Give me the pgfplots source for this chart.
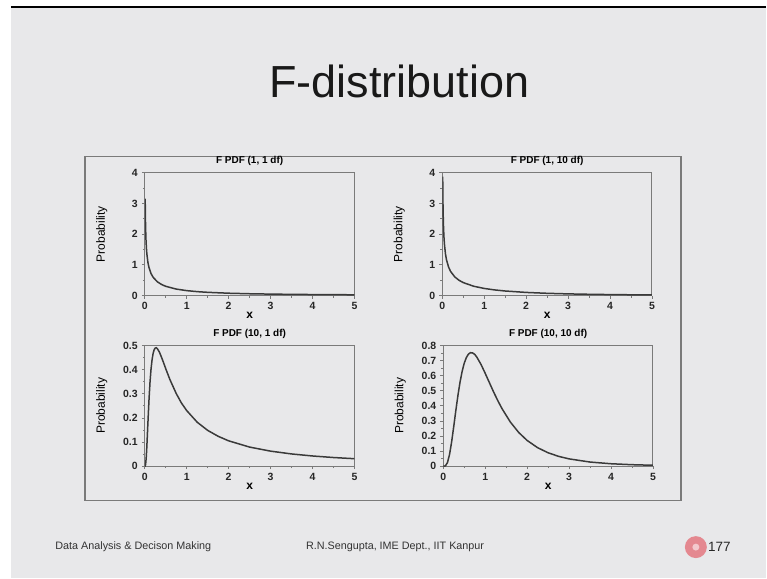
\documentclass[border=0pt]{standalone}
\usepackage{pgfplots}
\pgfplotsset{compat=1.18}
\usepackage{fontspec}
\setmainfont{Liberation Sans}
\definecolor{slidebg}{HTML}{E8E8EA}
\definecolor{axgray}{HTML}{7A7A7A}
\definecolor{curve}{HTML}{3A3A3A}
\definecolor{pagered}{HTML}{E48890}
\pgfplotsset{
  fplot/.style={
    scale only axis, width=210pt, height=123pt, anchor=south west,
    xmin=0, xmax=5, ymin=0,
    axis line style={draw=axgray, line width=1.1pt},
    tick align=outside, tick pos=left, major tick length=3pt, minor tick length=2pt,
    every tick/.style={draw=axgray, line width=0.8pt},
    xtick={0,1,2,3,4,5}, minor x tick num=1,
    /pgf/number format/assume math mode=true,
    /pgf/number format/fixed,
    tick label style={font=\fontsize{10.5}{10.5}\selectfont\bfseries, text=black!85},
    xticklabel style={yshift=-0.5pt},
    yticklabel style={xshift=-0.5pt},
    title style={font=\fontsize{10}{10}\selectfont\bfseries, at={(0.5,1)}, anchor=south, yshift=-1.5pt, inner sep=2pt},
    every axis x label/.style={at={(axis description cs:0.5,0)}, yshift=-20pt, anchor=center, font=\fontsize{12}{12}\selectfont\bfseries},
    every axis y label/.style={at={(axis description cs:0,0.5)}, xshift=-43pt, rotate=90, anchor=center, font=\fontsize{12}{12}\selectfont},
    xlabel={x}, ylabel={Probability},
    every axis plot post/.append style={draw=curve, line width=1.5pt, mark=none},
  }
}
\begin{document}
\begin{tikzpicture}
% slide background
\fill[white] (0pt,0pt) rectangle (767pt,579pt);
\fill[slidebg] (11pt,0pt) rectangle (767pt,572pt);
\draw[black, line width=2.5pt] (11pt,572pt) -- (767pt,572pt);
% title
\node[font=\fontsize{45}{45}\selectfont, text=black!90] at (400pt,497pt) {F-distribution};
% frame
\draw[axgray, line width=1.3pt] (85pt,78pt) rectangle (682pt,422pt);
% footer
\node[font=\fontsize{10.8}{10.8}\selectfont, anchor=west, text=black!80] at (52pt,31pt) {Data Analysis \& Decison Making};
\node[font=\fontsize{10.8}{10.8}\selectfont, anchor=west, text=black!80] at (303pt,31pt) {R.N.Sengupta, IME Dept., IIT Kanpur};
\fill[pagered] (697pt,31pt) circle (11pt);
\fill[pagered!45!white] (697pt,31pt) circle (3.5pt);
\node[font=\fontsize{13.5}{13.5}\selectfont, anchor=west, text=black!85, inner sep=0pt] at (709pt,31pt) {177};

% F(1,1)
\begin{axis}[fplot, at={(145pt,283pt)}, ymax=4, ytick={0,1,2,3,4}, minor y tick num=1, title={F PDF (1, 1 df)}]
\addplot coordinates {(0.01,3.152) (0.015,2.576) (0.02,2.207) (0.03,1.784) (0.04,1.531) (0.05,1.356) (0.075,1.081) (0.1,0.9151) (0.15,0.7147) (0.2,0.5931) (0.3,0.4470) (0.4,0.3595) (0.5,0.3001) (0.75,0.2100) (1,0.1592) (1.25,0.1265) (1.5,0.1040) (2,0.07503) (2.5,0.05752) (3,0.04594) (3.5,0.03781) (4,0.03183) (4.5,0.02728) (5,0.02372)};
\end{axis}

% F(1,10)
\begin{axis}[fplot, at={(443pt,283pt)}, ymax=4, ytick={0,1,2,3,4}, minor y tick num=1, title={F PDF (1, 10 df)}]
\addplot coordinates {(0.01,3.870) (0.015,3.152) (0.02,2.721) (0.03,2.210) (0.04,1.907) (0.05,1.693) (0.075,1.364) (0.1,1.165) (0.15,0.9257) (0.2,0.7803) (0.3,0.6038) (0.4,0.4959) (0.5,0.4208) (0.75,0.3019) (1,0.2304) (1.25,0.1821) (1.5,0.1473) (2,0.1009) (2.5,0.07213) (3,0.05307) (3.5,0.03992) (4,0.03057) (4.5,0.02376) (5,0.01871)};
\end{axis}

% F(10,1)
\begin{axis}[fplot, at={(145pt,112pt)}, height=121pt, ymax=0.5, ytick={0,0.1,0.2,0.3,0.4,0.5}, minor y tick num=1, title={F PDF (10, 1 df)}]
\addplot coordinates {(0,0) (0.01,0.0007) (0.02,0.0072) (0.035,0.036) (0.05,0.0827) (0.075,0.1793) (0.1,0.2719) (0.125,0.3473) (0.15,0.4034) (0.175,0.4420) (0.2,0.4678) (0.225,0.4826) (0.25,0.4893) (0.275,0.4905) (0.3,0.4867) (0.35,0.4721) (0.4,0.4508) (0.45,0.4278) (0.5,0.4037) (0.6,0.3586) (0.75,0.3010) (0.875,0.2616) (1,0.2304) (1.25,0.1823) (1.5,0.1485) (1.75,0.1240) (2,0.1052) (2.5,0.0793) (3,0.0625) (3.5,0.0509) (4,0.0425) (4.5,0.0361) (5,0.0312)};
\end{axis}

% F(10,10)
\begin{axis}[fplot, at={(444pt,112pt)}, height=121pt, ymax=0.8, ytick={0,0.1,0.2,0.3,0.4,0.5,0.6,0.7,0.8}, minor y tick num=1, title={F PDF (10, 10 df)}]
\addplot coordinates {(0,0) (0.05,0.0024) (0.1,0.0243) (0.15,0.0788) (0.2,0.1628) (0.25,0.2642) (0.3,0.3702) (0.35,0.4702) (0.4,0.5576) (0.45,0.6284) (0.5,0.6828) (0.55,0.7196) (0.6,0.7426) (0.65,0.7522) (0.7,0.7503) (0.75,0.7410) (0.8,0.7227) (0.9,0.6742) (1,0.6152) (1.1,0.5534) (1.2,0.4919) (1.3,0.4345) (1.4,0.3817) (1.6,0.2925) (1.8,0.2233) (2,0.1707) (2.25,0.1228) (2.5,0.0892) (2.75,0.0655) (3,0.0487) (3.5,0.0278) (4,0.0165) (4.5,0.0102) (5,0.0065)};
\end{axis}
\end{tikzpicture}
\end{document}
